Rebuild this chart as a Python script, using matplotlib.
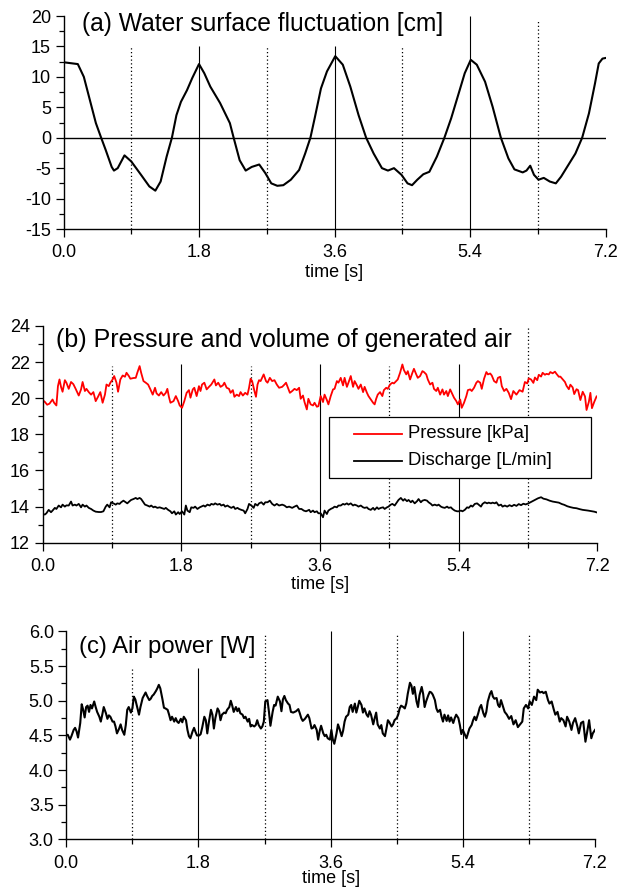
import numpy as np
import matplotlib
matplotlib.use("Agg")
import matplotlib.pyplot as plt
from matplotlib.patches import Rectangle
from matplotlib.ticker import MultipleLocator, FormatStrFormatter

plt.rcParams['font.family'] = ['Liberation Sans', 'DejaVu Sans']

# (a) water surface fluctuation [cm]
t_a = [0.0, 0.19, 0.27, 0.35, 0.43, 0.50, 0.56, 0.64, 0.67, 0.72,
       0.81, 0.90, 1.03, 1.14, 1.22, 1.29, 1.37, 1.44, 1.50, 1.56,
       1.64, 1.71, 1.80, 1.87, 1.95, 2.08, 2.21, 2.26, 2.34, 2.42,
       2.50, 2.60, 2.68, 2.76, 2.84, 2.92, 3.02, 3.13, 3.21, 3.28,
       3.34, 3.42, 3.50, 3.61, 3.71, 3.81, 3.92, 4.02, 4.12, 4.23,
       4.31, 4.39, 4.49, 4.57, 4.63, 4.70, 4.78, 4.86, 4.96, 5.06,
       5.15, 5.25, 5.33, 5.41, 5.49, 5.60, 5.70, 5.81, 5.91, 5.99,
       6.10, 6.15, 6.20, 6.25, 6.31, 6.38, 6.46, 6.54, 6.61, 6.69,
       6.80, 6.89, 6.98, 7.06, 7.11, 7.16, 7.2]
eta = [12.4, 12.1, 10.0, 6.2, 2.4, 0.0, -2.0, -4.8, -5.4, -5.0,
       -2.9, -3.9, -6.1, -8.0, -8.7, -7.2, -3.1, 0.0, 3.7, 5.9,
       7.8, 9.8, 12.1, 10.6, 8.4, 5.7, 2.4, 0.0, -3.7, -5.4,
       -4.8, -4.4, -5.8, -7.5, -7.9, -7.8, -6.9, -5.3, -2.6, 0.0,
       3.4, 8.1, 10.9, 13.4, 12.0, 8.4, 3.7, 0.0, -2.6, -5.0,
       -5.4, -5.0, -6.1, -7.5, -7.8, -6.9, -6.0, -5.6, -3.1, 0.0,
       3.2, 7.3, 10.6, 12.8, 12.0, 9.2, 5.1, 0.0, -3.4, -5.2,
       -5.7, -5.4, -4.6, -6.1, -6.9, -6.6, -7.2, -7.5, -6.4, -4.8,
       -2.6, 0.0, 4.0, 8.9, 12.2, 13.0, 13.1]

# (b) pressure [kPa], (time, value)
pressure = [
    (0.00, 19.90), (0.03, 19.80), (0.06, 19.64), (0.09, 19.70), (0.13, 19.93), (0.15, 19.75),
    (0.18, 19.60), (0.20, 20.67), (0.22, 21.04), (0.24, 20.63), (0.26, 20.36), (0.29, 21.00),
    (0.31, 20.86), (0.34, 20.52), (0.37, 20.90), (0.40, 20.78), (0.43, 20.52), (0.47, 20.15),
    (0.50, 20.49), (0.52, 20.90), (0.55, 20.40), (0.57, 20.52), (0.60, 20.34), (0.63, 20.20),
    (0.66, 20.34), (0.69, 19.84), (0.72, 20.08), (0.75, 20.34), (0.78, 19.75), (0.81, 20.20),
    (0.83, 20.76), (0.86, 20.67), (0.88, 20.86), (0.91, 21.04), (0.93, 21.23), (0.96, 20.86),
    (0.98, 20.36), (1.01, 21.04), (1.04, 21.26), (1.07, 21.19), (1.09, 21.41), (1.12, 21.23),
    (1.14, 21.08), (1.18, 21.12), (1.21, 21.13), (1.23, 21.41), (1.26, 21.78), (1.28, 21.41),
    (1.31, 20.95), (1.34, 20.86), (1.37, 20.76), (1.40, 20.49), (1.43, 20.20), (1.46, 20.58),
    (1.48, 20.27), (1.51, 20.15), (1.54, 20.34), (1.57, 20.15), (1.60, 20.30), (1.62, 20.52),
    (1.64, 20.08), (1.66, 19.75), (1.70, 19.84), (1.73, 20.12), (1.76, 19.84), (1.78, 19.60),
    (1.81, 19.47), (1.84, 19.84), (1.87, 20.30), (1.90, 20.45), (1.92, 20.03), (1.95, 20.49),
    (1.97, 20.58), (2.00, 20.12), (2.03, 20.67), (2.05, 20.40), (2.07, 20.76), (2.10, 20.86),
    (2.13, 20.49), (2.16, 20.63), (2.19, 20.76), (2.23, 21.04), (2.25, 20.71), (2.28, 20.86),
    (2.31, 20.63), (2.34, 20.71), (2.36, 20.86), (2.39, 20.58), (2.42, 20.52), (2.44, 20.30),
    (2.47, 20.45), (2.49, 20.08), (2.52, 20.20), (2.55, 20.12), (2.57, 20.34), (2.60, 20.15),
    (2.63, 20.30), (2.66, 20.20), (2.68, 20.58), (2.70, 21.08), (2.72, 20.95), (2.75, 20.40),
    (2.77, 20.08), (2.79, 20.76), (2.81, 21.00), (2.83, 20.95), (2.85, 21.13), (2.87, 21.32),
    (2.90, 20.95), (2.92, 20.86), (2.95, 21.13), (2.98, 20.95), (3.01, 21.00), (3.04, 20.76),
    (3.07, 20.58), (3.11, 20.63), (3.14, 20.76), (3.16, 20.86), (3.19, 20.52), (3.21, 20.30),
    (3.24, 20.40), (3.27, 20.52), (3.30, 20.45), (3.33, 20.58), (3.35, 19.97), (3.38, 20.15),
    (3.40, 19.79), (3.43, 19.38), (3.45, 19.97), (3.48, 19.66), (3.51, 19.60), (3.53, 19.75),
    (3.56, 19.53), (3.58, 19.56), (3.61, 20.12), (3.64, 19.79), (3.66, 20.20), (3.69, 19.90),
    (3.71, 19.66), (3.74, 20.12), (3.77, 20.49), (3.79, 20.52), (3.82, 20.95), (3.84, 20.86),
    (3.87, 21.13), (3.90, 20.71), (3.92, 21.13), (3.95, 20.63), (3.97, 20.86), (4.00, 21.23),
    (4.03, 20.63), (4.05, 20.95), (4.08, 20.71), (4.10, 20.52), (4.13, 20.76), (4.16, 20.34),
    (4.18, 20.63), (4.21, 20.30), (4.23, 20.12), (4.26, 19.93), (4.29, 19.75), (4.31, 19.66),
    (4.33, 19.97), (4.35, 20.20), (4.38, 20.34), (4.41, 20.12), (4.43, 20.45), (4.46, 20.58),
    (4.48, 20.52), (4.51, 20.76), (4.54, 20.86), (4.56, 20.82), (4.59, 20.95), (4.61, 21.04),
    (4.64, 21.41), (4.67, 21.87), (4.69, 21.56), (4.72, 21.32), (4.74, 21.50), (4.77, 21.04),
    (4.80, 21.41), (4.82, 21.63), (4.85, 21.32), (4.87, 21.13), (4.90, 21.23), (4.93, 21.50),
    (4.95, 21.45), (4.98, 21.32), (5.00, 21.04), (5.03, 20.76), (5.06, 20.86), (5.08, 20.52),
    (5.11, 20.40), (5.13, 20.58), (5.16, 20.20), (5.19, 20.49), (5.21, 20.20), (5.24, 20.40),
    (5.26, 20.12), (5.29, 20.49), (5.31, 20.30), (5.34, 20.03), (5.37, 19.84), (5.39, 19.66),
    (5.42, 19.93), (5.44, 19.47), (5.47, 19.75), (5.50, 20.12), (5.52, 20.45), (5.55, 20.49),
    (5.57, 20.40), (5.60, 20.58), (5.63, 20.86), (5.65, 20.95), (5.68, 20.86), (5.70, 20.52),
    (5.73, 21.08), (5.76, 21.45), (5.78, 21.32), (5.81, 21.37), (5.83, 21.26), (5.86, 20.95),
    (5.89, 20.86), (5.91, 21.13), (5.94, 21.19), (5.96, 20.67), (5.99, 20.40), (6.02, 20.52),
    (6.05, 20.30), (6.08, 19.95), (6.11, 20.40), (6.15, 20.20), (6.19, 20.45), (6.23, 20.36),
    (6.26, 20.90), (6.29, 20.82), (6.31, 21.10), (6.34, 21.04), (6.37, 20.85), (6.39, 21.15),
    (6.42, 21.00), (6.44, 21.30), (6.47, 21.20), (6.49, 21.41), (6.52, 21.30), (6.54, 21.35),
    (6.57, 21.32), (6.59, 21.45), (6.62, 21.38), (6.65, 21.47), (6.67, 21.35), (6.70, 21.19),
    (6.72, 21.20), (6.75, 21.05), (6.78, 20.90), (6.80, 20.69), (6.83, 20.50), (6.85, 20.75),
    (6.88, 20.60), (6.90, 20.23), (6.93, 20.50), (6.95, 20.45), (6.98, 19.90), (7.01, 20.36),
    (7.04, 20.10), (7.06, 19.35), (7.09, 19.80), (7.11, 20.30), (7.13, 19.45), (7.16, 19.80),
    (7.19, 20.10),
]

# (b) discharge [L/min], (time, value)
discharge = [
    (0.00, 13.59), (0.03, 13.56), (0.05, 13.63), (0.08, 13.82), (0.11, 13.69), (0.13, 13.78),
    (0.16, 13.93), (0.18, 13.87), (0.21, 14.06), (0.24, 13.96), (0.26, 14.11), (0.29, 14.00),
    (0.31, 14.07), (0.34, 14.06), (0.37, 14.28), (0.39, 14.06), (0.42, 14.11), (0.44, 14.06),
    (0.47, 14.15), (0.50, 13.96), (0.52, 14.11), (0.55, 14.00), (0.57, 14.06), (0.60, 13.93),
    (0.63, 13.87), (0.66, 13.78), (0.69, 13.72), (0.73, 13.70), (0.76, 13.70), (0.79, 13.74),
    (0.82, 14.00), (0.84, 14.11), (0.87, 13.96), (0.89, 14.24), (0.92, 14.18), (0.95, 14.11),
    (0.97, 14.18), (1.00, 14.15), (1.02, 14.24), (1.05, 14.33), (1.08, 14.24), (1.10, 14.18),
    (1.13, 14.30), (1.15, 14.37), (1.18, 14.42), (1.21, 14.48), (1.23, 14.42), (1.26, 14.48),
    (1.28, 14.42), (1.31, 14.24), (1.33, 14.11), (1.36, 14.06), (1.39, 14.00), (1.41, 14.06),
    (1.44, 13.96), (1.46, 14.00), (1.49, 13.93), (1.52, 13.96), (1.54, 13.93), (1.58, 13.87),
    (1.60, 13.93), (1.63, 13.82), (1.66, 13.74), (1.68, 13.63), (1.71, 13.74), (1.73, 13.56),
    (1.76, 13.69), (1.78, 13.59), (1.81, 13.74), (1.84, 13.56), (1.86, 14.06), (1.88, 13.78),
    (1.91, 13.69), (1.93, 13.96), (1.96, 13.93), (1.98, 14.00), (2.01, 13.87), (2.04, 13.96),
    (2.06, 14.00), (2.09, 14.06), (2.11, 14.00), (2.14, 14.11), (2.17, 14.06), (2.19, 14.15),
    (2.22, 14.11), (2.24, 14.18), (2.27, 14.11), (2.30, 14.15), (2.32, 14.06), (2.35, 14.11),
    (2.37, 14.00), (2.40, 14.06), (2.42, 14.00), (2.45, 13.93), (2.48, 14.00), (2.50, 13.87),
    (2.53, 13.93), (2.55, 13.87), (2.58, 13.82), (2.61, 13.78), (2.63, 13.63), (2.66, 13.87),
    (2.68, 14.15), (2.71, 14.06), (2.74, 13.93), (2.76, 14.15), (2.79, 14.06), (2.81, 14.18),
    (2.84, 14.24), (2.87, 14.11), (2.89, 14.24), (2.92, 14.24), (2.95, 14.33), (2.98, 14.15),
    (3.01, 14.06), (3.04, 14.15), (3.07, 14.06), (3.11, 14.11), (3.14, 14.06), (3.17, 13.96),
    (3.20, 14.00), (3.24, 13.93), (3.27, 14.00), (3.30, 14.06), (3.33, 13.87), (3.36, 13.87),
    (3.39, 13.78), (3.42, 13.74), (3.46, 13.82), (3.48, 13.69), (3.51, 13.78), (3.53, 13.69),
    (3.56, 13.74), (3.58, 13.63), (3.61, 13.63), (3.64, 13.41), (3.66, 13.78), (3.69, 13.59),
    (3.71, 13.78), (3.74, 13.87), (3.77, 13.93), (3.79, 14.00), (3.82, 13.96), (3.84, 14.06),
    (3.87, 14.06), (3.90, 14.15), (3.92, 14.11), (3.95, 14.18), (3.97, 14.11), (4.00, 14.18),
    (4.03, 14.06), (4.05, 14.11), (4.08, 14.06), (4.10, 14.00), (4.13, 14.06), (4.16, 13.96),
    (4.18, 13.93), (4.21, 13.96), (4.23, 13.87), (4.26, 13.82), (4.29, 13.93), (4.31, 13.82),
    (4.34, 13.96), (4.36, 13.87), (4.39, 13.93), (4.42, 13.96), (4.44, 13.87), (4.47, 13.96),
    (4.49, 14.00), (4.52, 14.11), (4.54, 14.15), (4.57, 14.06), (4.60, 14.24), (4.62, 14.37),
    (4.65, 14.48), (4.68, 14.33), (4.70, 14.42), (4.73, 14.30), (4.75, 14.37), (4.78, 14.24),
    (4.80, 14.33), (4.83, 14.18), (4.86, 14.30), (4.88, 14.42), (4.91, 14.24), (4.93, 14.33),
    (4.96, 14.37), (4.99, 14.33), (5.01, 14.24), (5.04, 14.15), (5.06, 14.06), (5.09, 14.11),
    (5.12, 14.06), (5.14, 14.11), (5.17, 14.00), (5.19, 13.96), (5.22, 13.93), (5.25, 14.00),
    (5.27, 13.93), (5.30, 13.96), (5.32, 13.87), (5.35, 13.78), (5.38, 13.74), (5.40, 13.74),
    (5.43, 13.78), (5.45, 13.74), (5.48, 13.82), (5.51, 13.96), (5.53, 13.93), (5.56, 14.06),
    (5.58, 14.00), (5.61, 14.15), (5.64, 14.18), (5.66, 14.11), (5.69, 14.00), (5.71, 14.15),
    (5.74, 14.24), (5.77, 14.18), (5.79, 14.22), (5.82, 14.18), (5.84, 14.22), (5.87, 14.18),
    (5.89, 14.24), (5.92, 14.06), (5.95, 14.11), (5.97, 14.00), (6.00, 14.06), (6.03, 14.00),
    (6.06, 14.08), (6.09, 14.02), (6.12, 14.10), (6.15, 14.04), (6.18, 14.14), (6.21, 14.08),
    (6.24, 14.16), (6.27, 14.12), (6.31, 14.19),
    (6.35, 14.28), (6.39, 14.37), (6.43, 14.46), (6.47, 14.52), (6.50, 14.44), (6.54, 14.40),
    (6.58, 14.33), (6.62, 14.28), (6.66, 14.25), (6.70, 14.22), (6.74, 14.14), (6.77, 14.10),
    (6.81, 14.02), (6.85, 13.97), (6.89, 13.93), (6.93, 13.91), (6.97, 13.86), (7.01, 13.82),
    (7.05, 13.80), (7.08, 13.78), (7.12, 13.75), (7.16, 13.72), (7.20, 13.67),
]

# (c) air power [W], (time, value)
air_power = [
    (0.00, 4.50), (0.02, 4.51), (0.05, 4.44), (0.07, 4.49), (0.10, 4.58), (0.12, 4.61),
    (0.14, 4.56), (0.16, 4.47), (0.19, 4.68), (0.21, 4.95), (0.23, 4.87), (0.25, 4.76),
    (0.27, 4.91), (0.29, 4.93), (0.31, 4.84), (0.33, 4.94), (0.35, 4.89), (0.38, 4.99),
    (0.40, 4.91), (0.42, 4.84), (0.45, 4.77), (0.47, 4.70), (0.49, 4.80), (0.51, 4.91),
    (0.54, 4.82), (0.56, 4.74), (0.58, 4.79), (0.60, 4.77), (0.63, 4.70), (0.65, 4.70),
    (0.67, 4.63), (0.69, 4.53), (0.72, 4.60), (0.74, 4.66), (0.76, 4.58), (0.79, 4.51),
    (0.81, 4.65), (0.83, 4.87), (0.85, 4.91), (0.88, 4.83), (0.90, 4.89), (0.92, 5.06),
    (0.94, 5.02), (0.97, 4.89), (0.99, 4.80), (1.01, 4.91), (1.04, 5.04), (1.06, 5.08),
    (1.08, 5.12), (1.10, 5.07), (1.13, 5.01), (1.15, 5.03), (1.17, 5.07), (1.19, 5.09),
    (1.22, 5.14), (1.24, 5.18), (1.26, 5.23), (1.28, 5.18), (1.31, 5.02), (1.33, 4.90),
    (1.35, 4.89), (1.38, 4.87), (1.40, 4.80), (1.42, 4.72), (1.44, 4.77), (1.47, 4.70),
    (1.49, 4.75), (1.51, 4.70), (1.53, 4.68), (1.56, 4.74), (1.58, 4.69), (1.60, 4.77),
    (1.63, 4.72), (1.65, 4.58), (1.67, 4.49), (1.69, 4.46), (1.72, 4.56), (1.74, 4.61),
    (1.76, 4.55), (1.78, 4.50), (1.81, 4.50), (1.83, 4.52), (1.85, 4.61), (1.88, 4.77),
    (1.90, 4.72), (1.92, 4.53), (1.94, 4.68), (1.97, 4.87), (1.99, 4.80), (2.01, 4.60),
    (2.03, 4.75), (2.06, 4.89), (2.08, 4.85), (2.10, 4.72), (2.12, 4.80), (2.15, 4.83),
    (2.17, 4.82), (2.19, 4.87), (2.22, 4.91), (2.24, 5.00), (2.26, 4.93), (2.28, 4.84),
    (2.31, 4.91), (2.33, 4.85), (2.35, 4.89), (2.37, 4.82), (2.40, 4.80), (2.42, 4.75),
    (2.44, 4.77), (2.47, 4.70), (2.49, 4.74), (2.51, 4.63), (2.53, 4.65), (2.56, 4.63),
    (2.58, 4.65), (2.60, 4.72), (2.62, 4.65), (2.65, 4.60), (2.67, 4.63), (2.69, 4.70),
    (2.71, 4.99), (2.74, 5.01), (2.76, 4.84), (2.78, 4.64), (2.81, 4.84), (2.83, 4.94),
    (2.85, 4.93), (2.88, 5.06), (2.91, 4.99), (2.93, 4.85), (2.95, 5.02), (2.97, 5.07),
    (2.99, 5.01), (3.02, 4.96), (3.04, 4.94), (3.06, 4.84), (3.09, 4.83), (3.11, 4.84),
    (3.13, 4.85), (3.16, 4.88), (3.18, 4.82), (3.20, 4.75), (3.22, 4.71), (3.25, 4.74),
    (3.27, 4.77), (3.29, 4.80), (3.31, 4.75), (3.34, 4.60), (3.36, 4.61), (3.38, 4.65),
    (3.41, 4.58), (3.43, 4.44), (3.45, 4.56), (3.47, 4.64), (3.50, 4.53), (3.52, 4.49),
    (3.54, 4.51), (3.56, 4.46), (3.59, 4.44), (3.61, 4.58), (3.63, 4.44), (3.65, 4.38),
    (3.68, 4.53), (3.70, 4.66), (3.72, 4.60), (3.75, 4.49), (3.77, 4.57), (3.79, 4.70),
    (3.81, 4.77), (3.84, 4.80), (3.86, 4.91), (3.88, 4.94), (3.90, 4.84), (3.93, 4.96),
    (3.95, 4.83), (3.97, 4.91), (3.99, 5.00), (4.02, 4.94), (4.04, 4.83), (4.06, 4.89),
    (4.09, 4.80), (4.11, 4.77), (4.13, 4.85), (4.15, 4.80), (4.18, 4.66), (4.20, 4.75),
    (4.22, 4.83), (4.24, 4.66), (4.27, 4.60), (4.29, 4.65), (4.31, 4.53), (4.34, 4.49),
    (4.36, 4.60), (4.38, 4.72), (4.40, 4.69), (4.43, 4.63), (4.45, 4.66), (4.47, 4.72),
    (4.50, 4.75), (4.52, 4.80), (4.54, 4.89), (4.56, 4.93), (4.59, 4.91), (4.61, 4.89),
    (4.63, 4.96), (4.65, 5.10), (4.68, 5.26), (4.70, 5.22), (4.72, 5.10), (4.74, 5.20),
    (4.77, 4.99), (4.79, 4.91), (4.81, 5.08), (4.84, 5.20), (4.86, 5.10), (4.88, 4.91),
    (4.90, 4.99), (4.93, 5.08), (4.95, 5.13), (4.97, 5.12), (4.99, 5.09), (5.02, 5.01),
    (5.04, 4.89), (5.06, 4.84), (5.09, 4.87), (5.11, 4.77), (5.13, 4.70), (5.15, 4.80),
    (5.18, 4.71), (5.20, 4.79), (5.22, 4.70), (5.24, 4.76), (5.27, 4.68), (5.29, 4.75),
    (5.31, 4.80), (5.34, 4.75), (5.36, 4.65), (5.38, 4.52), (5.40, 4.58), (5.43, 4.51),
    (5.45, 4.46), (5.47, 4.53), (5.49, 4.60), (5.52, 4.65), (5.54, 4.72), (5.56, 4.77),
    (5.58, 4.72), (5.61, 4.82), (5.63, 4.90), (5.65, 4.94), (5.68, 4.82), (5.70, 4.77),
    (5.72, 4.84), (5.74, 4.99), (5.77, 5.10), (5.79, 5.14), (5.81, 5.06), (5.83, 5.03),
    (5.86, 5.04), (5.88, 4.94), (5.90, 4.91), (5.92, 5.01), (5.95, 4.91), (5.97, 4.84),
    (6.00, 4.80), (6.03, 4.74), (6.06, 4.78), (6.09, 4.66), (6.12, 4.72), (6.15, 4.62),
    (6.18, 4.66), (6.21, 4.70), (6.23, 4.89),
    (6.26, 4.94), (6.29, 4.89), (6.31, 4.99), (6.34, 4.94), (6.37, 5.06), (6.40, 5.01),
    (6.42, 5.16), (6.45, 5.12), (6.48, 5.13), (6.50, 5.11), (6.53, 5.13), (6.56, 5.01),
    (6.58, 4.96), (6.61, 4.99), (6.64, 4.87), (6.66, 4.80), (6.69, 4.84), (6.72, 4.70),
    (6.74, 4.75), (6.77, 4.72), (6.80, 4.63), (6.82, 4.77), (6.85, 4.70), (6.88, 4.58),
    (6.90, 4.68), (6.93, 4.75), (6.96, 4.63), (6.98, 4.53), (7.01, 4.68), (7.04, 4.70),
    (7.07, 4.41), (7.09, 4.53), (7.12, 4.72), (7.15, 4.46), (7.17, 4.53), (7.20, 4.58),
]

solid_t = [1.8, 3.6, 5.4]
dotted_t = [0.9, 2.7, 4.5, 6.3]


def style_axis(ax, ylim, ymajor, yminor, yfmt, labelpad=2):
    ax.set_xlim(0, 7.2)
    ax.set_ylim(*ylim)
    ax.spines['top'].set_visible(False)
    ax.spines['right'].set_visible(False)
    ax.xaxis.set_major_locator(MultipleLocator(1.8))
    ax.xaxis.set_minor_locator(MultipleLocator(0.9))
    ax.xaxis.set_major_formatter(FormatStrFormatter('%.1f'))
    ax.yaxis.set_major_locator(MultipleLocator(ymajor))
    ax.yaxis.set_minor_locator(MultipleLocator(yminor))
    ax.yaxis.set_major_formatter(FormatStrFormatter(yfmt))
    ax.tick_params(which='major', direction='out', length=6, width=0.9,
                   labelsize=13, pad=3)
    ax.tick_params(axis='x', which='major', pad=5)
    ax.tick_params(which='minor', direction='out', length=3.5, width=0.9)
    ax.set_xlabel('time [s]', fontsize=13, labelpad=labelpad)
    for s in ax.spines.values():
        s.set_linewidth(1.0)


def guide_lines(ax, bottom, solid_tops, dotted_tops):
    for x, top in zip(solid_t, solid_tops):
        ax.vlines(x, bottom, top, color='black', lw=0.8, zorder=1)
    for x, top in zip(dotted_t, dotted_tops):
        ax.vlines(x, bottom, top, color='black', lw=0.9,
                  linestyles=(0, (1, 2)), zorder=1)


fig = plt.figure(figsize=(6.19, 8.89), dpi=100)

# ---- panel (a)
ax1 = fig.add_axes([0.1026, 0.7424, 0.8756, 0.2396])
style_axis(ax1, (-15, 20), 5, 2.5, '%d')
guide_lines(ax1, -15, [15, 15, 20], [15, 15, 15, 19.5])
ax1.axhline(0, color='black', lw=1.0, zorder=1)
ax1.plot(t_a, eta, color='black', lw=1.5, zorder=2, solid_joinstyle='round')
ax1.text(0.035, 0.962, '(a) Water surface fluctuation [cm]', transform=ax1.transAxes,
         fontsize=17.7, va='center', ha='left')

# ---- panel (b)
ax2 = fig.add_axes([0.0687, 0.3895, 0.8963, 0.2438])
style_axis(ax2, (12, 24), 2, 1, '%d', labelpad=1)
guide_lines(ax2, 12, [21.9, 21.9, 21.9], [21.8, 21.8, 21.8, 23.9])
tp, pv = np.array(pressure).T
td, dv = np.array(discharge).T
ax2.plot(tp, pv, color='#ff0000', lw=1.3, zorder=2)
ax2.plot(td, dv, color='black', lw=1.3, zorder=2)
ax2.text(0.024, 0.935, '(b) Pressure and volume of generated air', transform=ax2.transAxes,
         fontsize=18, va='center', ha='left')

# legend box drawn by hand to match the original frame
ax2.add_patch(Rectangle((0.516, 0.30), 0.473, 0.281, transform=ax2.transAxes,
                        facecolor='white', edgecolor='black', lw=0.9, zorder=4))
legend_rows = [('Pressure [kPa]', '#ff0000', 0.502), ('Discharge [L/min]', 'black', 0.378)]
for label, color, yy in legend_rows:
    ax2.plot([0.562, 0.648], [yy, yy], color=color, lw=1.3,
             transform=ax2.transAxes, zorder=5)
    ax2.text(0.659, yy, label, transform=ax2.transAxes, fontsize=13.3,
             va='center', ha='left', zorder=5)

# ---- panel (c)
ax3 = fig.add_axes([0.1071, 0.0557, 0.8541, 0.234])
style_axis(ax3, (3.0, 6.0), 0.5, 0.25, '%.1f', labelpad=-1)
guide_lines(ax3, 3.0, [5.47, 6.0, 6.0], [5.47, 5.97, 5.97, 5.97])
tc, pw = np.array(air_power).T
ax3.plot(tc, pw, color='black', lw=1.5, zorder=2)
ax3.text(0.024, 0.927, '(c) Air power [W]', transform=ax3.transAxes,
         fontsize=17.2, va='center', ha='left')

fig.savefig('out.png', dpi=100)
